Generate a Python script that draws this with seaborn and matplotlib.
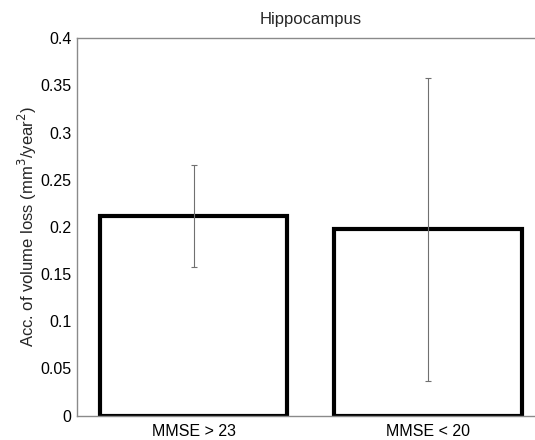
import matplotlib
matplotlib.use("Agg")
import matplotlib.pyplot as plt
import seaborn as sns
import pandas as pd
import numpy as np

categories = ["MMSE > 23", "MMSE < 20"]
means = [0.212, 0.198]
err_low = [0.158, 0.037]
err_high = [0.266, 0.358]
yticks = [0, 0.05, 0.1, 0.15, 0.2, 0.25, 0.3, 0.35, 0.4]
ytick_labels = ["0", "0.05", "0.1", "0.15", "0.2", "0.25", "0.3", "0.35", "0.4"]

sns.set_style("white")
plt.rcParams['font.family'] = ['Liberation Sans', 'DejaVu Sans']

df = pd.DataFrame({"group": categories, "value": means})

fig = plt.figure(figsize=(5.35, 4.40), dpi=100)
ax = fig.add_axes([0.1436, 0.0555, 0.875, 0.8575])

sns.barplot(data=df, x="group", y="value", ax=ax, color="white",
            edgecolor="black", linewidth=3.0, width=0.8, errorbar=None, zorder=2)

xs = np.arange(len(categories))
ax.errorbar(xs, means,
            yerr=[np.array(means) - np.array(err_low), np.array(err_high) - np.array(means)],
            fmt="none", ecolor="#707070", elinewidth=0.8, capsize=2.5, capthick=0.8, zorder=3)

ax.set_xlim(-0.5, 1.5)
ax.set_ylim(0, 0.4)
ax.set_yticks(yticks)
ax.set_yticklabels(ytick_labels)
ax.tick_params(axis="y", length=0, labelsize=11.5, pad=4, colors="black")
ax.tick_params(axis="x", length=0, labelsize=11.5, pad=6, colors="black")
ax.set_xlabel("")
ax.set_ylabel("Acc. of volume loss (mm$^3$/year$^2$)", fontsize=12, labelpad=1)
ax.set_title("Hippocampus", fontsize=12, pad=10)

for side in ["left", "bottom", "top"]:
    ax.spines[side].set_visible(True)
    ax.spines[side].set_color("#8a8a8a")
    ax.spines[side].set_linewidth(1.0)
ax.spines["right"].set_visible(False)

fig.savefig("out.png", dpi=100)
